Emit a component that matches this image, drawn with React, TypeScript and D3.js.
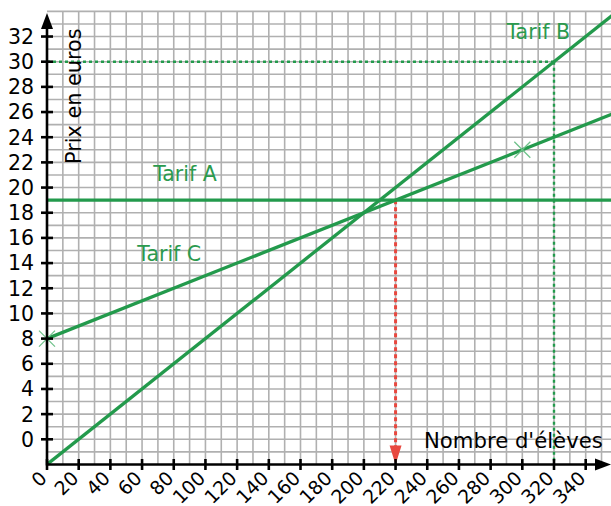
import React from "react";
import * as d3 from "d3";

const W = 611;
const H = 506;

// Data
const tarifA: [number, number][] = [[0, 19], [360, 19]];
const tarifB: [number, number][] = [[0, -2], [360, 34]];
const tarifC: [number, number][] = [[0, 8], [360, 26]];
const crossPoints: [number, number][] = [[0, 8], [300, 23]];
const xTicks = [0, 20, 40, 60, 80, 100, 120, 140, 160, 180, 200, 220, 240, 260, 280, 300, 320, 340];
const yTicks = [0, 2, 4, 6, 8, 10, 12, 14, 16, 18, 20, 22, 24, 26, 28, 30, 32];
const readB: [number, number] = [320, 30];
const readA: [number, number] = [220, 19];
const labels = [
  { text: "Tarif A", x: 67, y: 20.5 },
  { text: "Tarif C", x: 57, y: 14.2 },
  { text: "Tarif B", x: 290, y: 31.8 },
];

const GREEN = "#239a4c";
const TEXT_GREEN = "#2b9a4e";
const RED = "#e8483f";
const FONT = "'DejaVu Sans', sans-serif";

export default function App() {
  const x = d3.scaleLinear().domain([0, 320]).range([47, 554]);
  const y = d3.scaleLinear().domain([0, 30]).range([439.3, 61.7]);
  const xMin = -2;
  const yMax = 34;
  const gridTop = y(yMax);
  const axisY = y(xMin);
  const line = d3.line<[number, number]>().x((d) => x(d[0])).y((d) => y(d[1]));

  const vGrid = d3.range(10, 361, 10);
  const hGrid = d3.range(-1, 35, 1);

  return (
    <svg
      width={W}
      height={H}
      style={{ position: "absolute", left: 0, top: 0, background: "#fff" }}
      fontFamily={FONT}
    >
      <defs>
        <clipPath id="plot">
          <rect x={x(0)} y={gridTop - 2} width={W - x(0)} height={axisY - gridTop + 2} />
        </clipPath>
      </defs>
      <rect width={W} height={H} fill="#fff" />
      {/* grid */}
      <g stroke="#b0b0b0" strokeWidth={1.6}>
        {vGrid.map((v) => (
          <line key={"v" + v} x1={x(v)} x2={x(v)} y1={gridTop} y2={axisY} />
        ))}
        {hGrid.map((v) => (
          <line key={"h" + v} x1={x(0)} x2={W} y1={y(v)} y2={y(v)} />
        ))}
      </g>
      {/* dashed guides */}
      <g stroke={GREEN} strokeWidth={2.4} strokeDasharray="3,3" fill="none">
        <line x1={x(0)} x2={x(readB[0])} y1={y(readB[1])} y2={y(readB[1])} />
        <line x1={x(readB[0])} x2={x(readB[0])} y1={y(readB[1])} y2={axisY} />
      </g>
      <line
        x1={x(readA[0])}
        x2={x(readA[0])}
        y1={y(readA[1])}
        y2={axisY - 18}
        stroke={RED}
        strokeWidth={3}
        strokeDasharray="4,3"
      />
      <path
        d={`M${x(readA[0]) - 6},${axisY - 19} L${x(readA[0]) + 6},${axisY - 19} L${x(readA[0])},${axisY} Z`}
        fill={RED}
      />
      {/* lines */}
      <g clipPath="url(#plot)" fill="none" stroke={GREEN} strokeWidth={3.3}>
        <path d={line(tarifA) || ""} />
        <path d={line(tarifB) || ""} />
        <path d={line(tarifC) || ""} />
      </g>
      {/* crosses */}
      <g stroke="#6cc088" strokeWidth={1.3}>
        {crossPoints.map((p, i) => (
          <g key={i}>
            <line x1={x(p[0]) - 8} x2={x(p[0]) + 8} y1={y(p[1]) - 8} y2={y(p[1]) + 8} />
            <line x1={x(p[0]) - 8} x2={x(p[0]) + 8} y1={y(p[1]) + 8} y2={y(p[1]) - 8} />
          </g>
        ))}
      </g>
      {/* axes */}
      <g stroke="#000" strokeWidth={2.6}>
        <line x1={x(0)} x2={x(0)} y1={axisY + 1} y2={22} />
        <line x1={x(0) - 1} x2={600} y1={axisY} y2={axisY} />
        {yTicks.map((v) => (
          <line key={"yt" + v} x1={x(0) - 6} x2={x(0) + 6} y1={y(v)} y2={y(v)} />
        ))}
        {xTicks.map((v) => (
          <line key={"xt" + v} x1={x(v)} x2={x(v)} y1={axisY - 5.5} y2={axisY + 5.5} />
        ))}
      </g>
      <path d={`M${x(0)},13 L${x(0) - 6},29 L${x(0) + 6},29 Z`} fill="#000" />
      <path d={`M611,${axisY} L595,${axisY - 6} L595,${axisY + 6} Z`} fill="#000" />
      {/* tick labels */}
      <g fontSize={20.5} fill="#000">
        {yTicks.map((v) => (
          <text key={"yl" + v} x={34} y={y(v)} dy="0.36em" textAnchor="end">
            {v}
          </text>
        ))}
      </g>
      <g fontSize={19} fill="#000">
        {xTicks.map((v) => (
          <text
            key={"xl" + v}
            textAnchor="end"
            transform={`translate(${x(v) + 1},${axisY + 15}) rotate(-45)`}
          >
            {v}
          </text>
        ))}
      </g>
      {/* axis titles */}
      <text
        fontSize={20.8}
        fill="#000"
        transform={`translate(81,164) rotate(-90)`}
      >
        Prix en euros
      </text>
      <text fontSize={21.2} fill="#000" x={424} y={448}>
        Nombre d'élèves
      </text>
      {/* series labels */}
      <g fontSize={20.5} fill={TEXT_GREEN}>
        {labels.map((l) => (
          <text key={l.text} x={x(l.x)} y={y(l.y)}>
            {l.text}
          </text>
        ))}
      </g>
    </svg>
  );
}
